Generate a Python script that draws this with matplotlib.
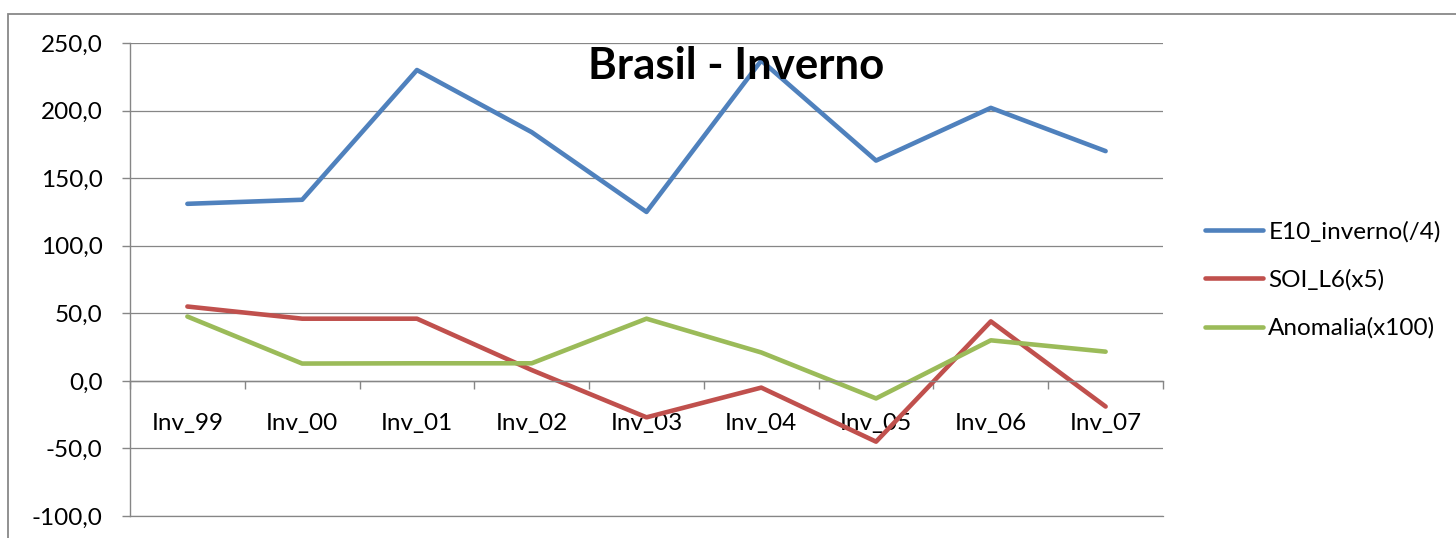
import matplotlib.pyplot as plt
from matplotlib.patches import Rectangle
from matplotlib.ticker import FuncFormatter, FixedLocator

plt.rcParams['font.family'] = ['Lato', 'DejaVu Sans']

categorias = ['Inv_99', 'Inv_00', 'Inv_01', 'Inv_02', 'Inv_03',
              'Inv_04', 'Inv_05', 'Inv_06', 'Inv_07']
e10_inverno = [131, 134, 230, 184, 125, 237, 163, 202, 170]
soi_l6 = [55, 46, 46, 8, -27, -5, -45, 44, -19]
anomalia = [47.6, 12.8, 13, 13, 46, 21, -13, 30, 21.6]

series = [
    ('E10_inverno(/4)', e10_inverno, '#4F81BD'),
    ('SOI_L6(x5)', soi_l6, '#C0504D'),
    ('Anomalia(x100)', anomalia, '#9BBB59'),
]

W, H = 1456, 538
fig = plt.figure(figsize=(W / 100, H / 100), dpi=100)
ax = fig.add_axes([130 / W, (H - 516) / H, (1163 - 130) / W, (516 - 43) / H])

# moldura externa do grafico (Excel)
fig.patches.append(Rectangle((7.5 / W, -0.1), 1.2, (H - 14) / H + 0.1,
                             transform=fig.transFigure, fill=False,
                             edgecolor='#888888', linewidth=1.3))

x = list(range(len(categorias)))
for nome, vals, cor in series:
    ax.plot(x, vals, color=cor, linewidth=3.3, label=nome,
            solid_capstyle='round', solid_joinstyle='round')

ax.set_xlim(-0.5, len(categorias) - 0.5)
ax.set_ylim(-100, 250)
ax.set_yticks(range(-100, 251, 50))
ax.yaxis.set_major_formatter(FuncFormatter(lambda v, p: f'{v:.1f}'.replace('.', ',')))
ax.grid(axis='y', color='#868686', linewidth=0.9)
ax.axhline(-100, color='#868686', linewidth=0.9, clip_on=False, zorder=0.5)
ax.set_axisbelow(True)

ax.spines['top'].set_visible(False)
ax.spines['right'].set_visible(False)
ax.spines['bottom'].set_position(('data', 0))
for s in ('left', 'bottom'):
    ax.spines[s].set_color('#868686')
    ax.spines[s].set_linewidth(1.0)

ax.xaxis.set_major_locator(FixedLocator([i - 0.5 for i in range(len(categorias) + 1)]))
ax.xaxis.set_major_formatter(FuncFormatter(lambda v, p: ''))
ax.xaxis.set_minor_locator(FixedLocator(x))
ax.set_xticklabels(categorias, minor=True)
ax.tick_params(axis='x', which='major', direction='out', length=5.8, color='#868686', width=1.0)
ax.tick_params(axis='x', which='minor', length=0, pad=23.5, labelsize=17.5)
ax.tick_params(axis='y', direction='out', length=5.8, color='#868686', width=1.0,
               pad=14, labelsize=17.5)

fig.text(736 / W, (H - 79) / H, 'Brasil - Inverno', ha='center', va='baseline',
         fontsize=31.5, fontweight='bold')

ax.legend(loc='center left', bbox_to_anchor=(1193 / W, (H - 280) / H),
          bbox_transform=fig.transFigure, frameon=False, fontsize=17.5,
          handlelength=2.4, handletextpad=0.2, labelspacing=1.1, borderpad=0)

fig.savefig('out.png', dpi=100)
